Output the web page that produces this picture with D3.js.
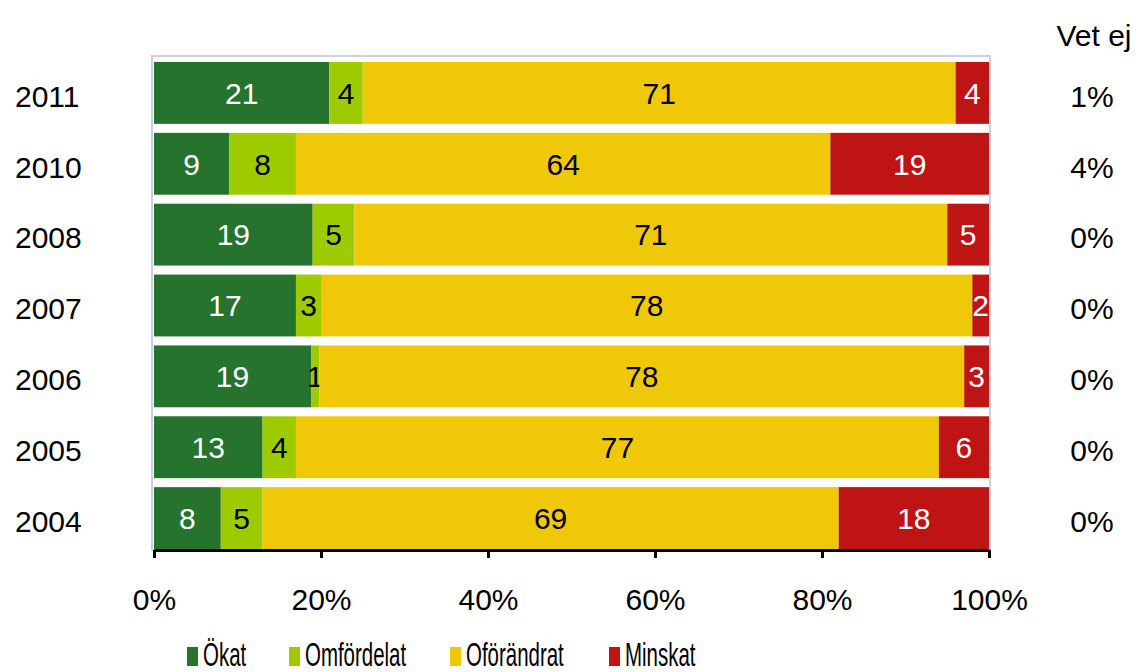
<!DOCTYPE html>
<html>
<head>
<meta charset="utf-8">
<script src="https://cdn.jsdelivr.net/npm/d3@7"></script>
<style>
  body { margin: 0; background: #fff; }
  svg { display: block; font-family: "Liberation Sans", Arial, sans-serif; }
</style>
</head>
<body>
<svg id="chart"></svg>
<script>
const years = ["2011", "2010", "2008", "2007", "2006", "2005", "2004"];
const series = ["Ökat", "Omfördelat", "Oförändrat", "Minskat"];
const okat = [21, 9, 19, 17, 19, 13, 8];
const omfordelat = [4, 8, 5, 3, 1, 4, 5];
const oforandrat = [71, 64, 71, 78, 78, 77, 69];
const minskat = [4, 19, 5, 2, 3, 6, 18];
const vetEj = [1, 4, 0, 0, 0, 0, 0];
const ticks = [0, 20, 40, 60, 80, 100];

const colors = ["#26732e", "#9ecb00", "#f0c80a", "#bf1414"];
const labelColors = ["#fff", "#000", "#000", "#fff"];

const width = 1137;
const height = 672;

const svg = d3.select("#chart").attr("width", width).attr("height", height);

const rows = years.map((y, i) => ({
    year: y,
    "Ökat": okat[i],
    "Omfördelat": omfordelat[i],
    "Oförändrat": oforandrat[i],
    "Minskat": minskat[i]
}));

const stack = d3.stack().keys(series).offset(d3.stackOffsetExpand);
const stacked = stack(rows);

const x = d3.scaleLinear().domain([0, 1]).range([154, 989]);
const y = d3.scaleBand().domain(years).range([62, 549]).paddingInner(0.127).paddingOuter(0);

// plot frame
svg.append("rect")
    .attr("x", 152).attr("y", 56)
    .attr("width", 990 - 152).attr("height", 550 - 56)
    .attr("fill", "none")
    .attr("stroke", "#ccd0dc")
    .attr("stroke-width", 2);

const layers = svg.append("g").selectAll("g")
    .data(stacked)
    .enter().append("g")
    .attr("fill", (d, i) => colors[i]);

layers.selectAll("rect")
    .data(d => d)
    .enter().append("rect")
    .attr("x", d => x(d[0]))
    .attr("y", d => y(d.data.year))
    .attr("width", d => x(d[1]) - x(d[0]))
    .attr("height", y.bandwidth());

layers.each(function (layer, i) {
    d3.select(this).selectAll("text")
        .data(layer)
        .enter().append("text")
        .attr("x", d => (x(d[0]) + x(d[1])) / 2)
        .attr("y", d => y(d.data.year) + y.bandwidth() / 2)
        .attr("dy", "0.36em")
        .attr("text-anchor", "middle")
        .attr("font-size", 30)
        .attr("fill", labelColors[i])
        .text(d => d.data[layer.key]);
});

// year labels
svg.append("g").selectAll("text")
    .data(years)
    .enter().append("text")
    .attr("x", 15)
    .attr("y", d => y(d) + y.bandwidth() / 2 + 3)
    .attr("dy", "0.36em")
    .attr("font-size", 30)
    .text(d => d);

// Vet ej column
svg.append("text")
    .attr("x", 1094).attr("y", 46)
    .attr("text-anchor", "middle")
    .attr("font-size", 30)
    .text("Vet ej");

svg.append("g").selectAll("text")
    .data(vetEj)
    .enter().append("text")
    .attr("x", 1092)
    .attr("y", (d, i) => y(years[i]) + y.bandwidth() / 2 + 3)
    .attr("dy", "0.36em")
    .attr("text-anchor", "middle")
    .attr("font-size", 30)
    .text(d => d + "%");

// x axis
const axis = d3.axisBottom(x)
    .tickValues(ticks.map(t => t / 100))
    .tickFormat(d => Math.round(d * 100) + "%")
    .tickSize(8)
    .tickPadding(31)
    .tickSizeOuter(0);

const gx = svg.append("g")
    .attr("transform", "translate(0,550)")
    .call(axis);
gx.select(".domain").attr("stroke", "#000").attr("stroke-width", 3);
gx.selectAll(".tick line").attr("stroke", "#000").attr("stroke-width", 3);
gx.selectAll(".tick text")
    .attr("font-size", 30)
    .attr("font-family", "Liberation Sans, Arial, sans-serif")
    .attr("fill", "#000");

// legend (squeezed horizontally)
const legendX = [187, 289, 450, 609];
const sx = 0.62;
const legend = svg.append("g")
    .attr("transform", `scale(${sx},1)`);

const items = legend.selectAll("g")
    .data(series)
    .enter().append("g")
    .attr("transform", (d, i) => `translate(${legendX[i] / sx},0)`);

items.append("rect")
    .attr("x", 0).attr("y", 647)
    .attr("width", 11 / sx).attr("height", 19)
    .attr("fill", (d, i) => colors[i]);

items.append("text")
    .attr("x", 16 / sx)
    .attr("y", 666)
    .attr("font-size", 33)
    .text(d => d);
</script>
</body>
</html>
